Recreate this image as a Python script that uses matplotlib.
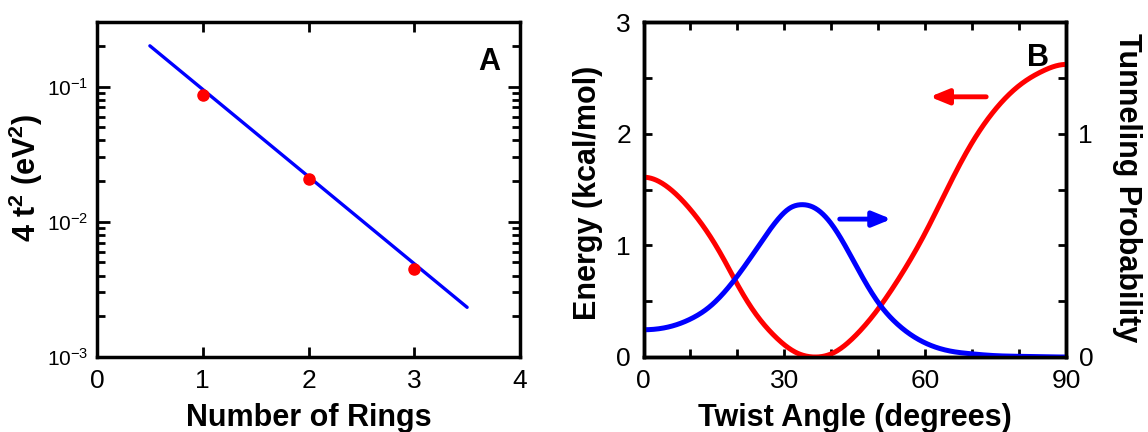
import numpy as np
import matplotlib
matplotlib.use("Agg")
import matplotlib.pyplot as plt
from matplotlib.ticker import LogLocator, MultipleLocator, FixedLocator, FuncFormatter

plt.rcParams['font.family'] = ['Liberation Sans', 'DejaVu Sans']
plt.rcParams['mathtext.fontset'] = 'custom'
plt.rcParams['mathtext.rm'] = 'Liberation Sans'
plt.rcParams['mathtext.bf'] = 'Liberation Sans:bold'

# --- panel A data ---
rings = [1, 2, 3]
t2 = [0.086, 0.0207, 0.0045]
fit_x = [0.5, 3.5]
fit_y = [0.2, 0.00233]

# --- panel B data ---
ang_e = [0, 5.8, 10, 14.2, 17.3, 20, 23.5, 28, 32.7, 36.2, 40.4, 45, 49.8,
         54.2, 60, 65, 70, 75, 80, 85, 90]
energy = [1.61, 1.50, 1.32, 1.08, 0.86, 0.65, 0.41, 0.185, 0.036, 0.0, 0.036,
          0.185, 0.42, 0.69, 1.11, 1.53, 1.92, 2.22, 2.43, 2.56, 2.62]
ang_p = [0, 5.8, 10, 14.2, 18.8, 23.5, 28, 31.2, 33.6, 36.5, 40.4, 45, 49.8,
         54.2, 60, 65, 70, 75, 80, 90]
prob = [0.122, 0.137, 0.17, 0.227, 0.33, 0.466, 0.60, 0.667, 0.682, 0.667,
        0.585, 0.42, 0.25, 0.145, 0.063, 0.028, 0.014, 0.006, 0.003, 0.0]


def spline(x, y, n=500):
    # clamped cubic spline (zero slope at both ends) through the read points
    x = np.asarray(x, float); y = np.asarray(y, float)
    N = len(x); h = np.diff(x)
    A = np.zeros((N, N)); b = np.zeros(N)
    A[0, 0] = 2*h[0]; A[0, 1] = h[0]; b[0] = 3*(y[1] - y[0]) / h[0]
    A[-1, -2] = h[-1]; A[-1, -1] = 2*h[-1]; b[-1] = -3*(y[-1] - y[-2]) / h[-1]
    for k in range(1, N - 1):
        A[k, k - 1] = h[k - 1]; A[k, k] = 2*(h[k - 1] + h[k]); A[k, k + 1] = h[k]
        b[k] = 3*((y[k + 1] - y[k]) / h[k] - (y[k] - y[k - 1]) / h[k - 1])
    c = np.linalg.solve(A, b)
    bb = np.diff(y) / h - h*(2*c[:-1] + c[1:]) / 3
    d = np.diff(c) / (3*h)
    xs = np.linspace(x[0], x[-1], n)
    i = np.clip(np.searchsorted(x, xs) - 1, 0, N - 2)
    dx = xs - x[i]
    return xs, y[i] + bb[i]*dx + c[i]*dx**2 + d[i]*dx**3


fig = plt.figure(figsize=(11.48, 4.32), dpi=100)

tick_kw = dict(direction='in', width=2, colors='black')
LBL = 22

# --- panel A ---
ax1 = fig.add_axes([97/1148, 75/432, 423/1148, 335/432])
ax1.plot(fit_x, fit_y, color='#0000ff', lw=2.4, solid_capstyle='round', zorder=2)
ax1.plot(rings, t2, 'o', color='#ff0000', ms=8, zorder=3)
ax1.set_yscale('log')
ax1.set_xlim(0, 4)
ax1.set_ylim(1e-3, 0.3)
ax1.xaxis.set_major_locator(MultipleLocator(1))
ax1.yaxis.set_major_locator(LogLocator(base=10, numticks=10))
ax1.yaxis.set_minor_locator(LogLocator(base=10, subs=np.arange(2, 10), numticks=10))
ax1.yaxis.set_minor_formatter(plt.NullFormatter())
ax1.yaxis.set_major_formatter(FuncFormatter(
    lambda v, p: r'$\mathregular{10^{%d}}$' % round(np.log10(v))))
ax1.tick_params(axis='x', which='major', length=7, top=True, labelsize=19, pad=9, **tick_kw)
ax1.tick_params(axis='y', which='major', length=9, right=True, labelsize=15, pad=6, **tick_kw)
ax1.tick_params(which='minor', length=5.5, width=2, direction='in', right=True)
for s in ax1.spines.values():
    s.set_linewidth(2.5)
ax1.set_xlabel('Number of Rings', fontsize=LBL, fontweight='bold', va='center')
ax1.xaxis.set_label_coords(0.5, -0.182)
ax1.set_ylabel(r'4 t$^\mathregular{2}$ (eV$^\mathregular{2}$)', fontsize=LBL,
               fontweight='bold', va='center')
ax1.yaxis.set_label_coords(-0.168, 0.534)
ax1.text(0.953, 0.925, 'A', transform=ax1.transAxes, ha='right', va='top',
         fontsize=22, fontweight='bold')

# --- panel B ---
ax2 = fig.add_axes([643.5/1148, 75/432, 422.5/1148, 335/432])
xe, ye = spline(ang_e, energy)
ax2.plot(xe, np.clip(ye, 0, None), color='#ff0000', lw=3.6, solid_capstyle='round', zorder=3)
ax2.set_xlim(0, 90)
ax2.set_ylim(0, 3)
ax2.xaxis.set_major_locator(MultipleLocator(30))
ax2.xaxis.set_minor_locator(MultipleLocator(10))
ax2.yaxis.set_major_locator(MultipleLocator(1))
ax2.yaxis.set_minor_locator(MultipleLocator(0.5))
ax2.tick_params(which='major', length=6, top=True, labelsize=19, pad=9, **tick_kw)
ax2.tick_params(which='minor', length=6, width=2, direction='in', top=True)
for s in ax2.spines.values():
    s.set_linewidth(2.5)
ax2.set_xlabel('Twist Angle (degrees)', fontsize=LBL, fontweight='bold', va='center')
ax2.xaxis.set_label_coords(0.5, -0.182)
ax2.set_ylabel('Energy (kcal/mol)', fontsize=LBL, fontweight='bold', va='center')
ax2.yaxis.set_label_coords(-0.131, 0.49)

ax3 = ax2.twinx()
xp, yp = spline(ang_p, prob)
ax3.plot(xp, np.clip(yp, 0, None), color='#0000ff', lw=3.6, solid_capstyle='round', zorder=2)
ax3.set_ylim(0, 1.5)
ax3.yaxis.set_major_locator(FixedLocator([0, 1]))
ax3.yaxis.set_minor_locator(FixedLocator([0.25, 0.5, 0.75, 1.25]))
ax3.tick_params(which='major', length=6, labelsize=19, pad=9, **tick_kw)
ax3.tick_params(which='minor', length=6, width=2, direction='in')
for s in ax3.spines.values():
    s.set_linewidth(2.5)
ax3.set_ylabel('Tunneling Probability', fontsize=LBL, fontweight='bold',
               rotation=270, va='center')
ax3.yaxis.set_label_coords(1.144, 0.505)

arrow = '-|>,head_length=1.1,head_width=0.45'
ax2.annotate('', xy=(61.0, 2.33), xytext=(73.0, 2.33),
             arrowprops=dict(arrowstyle=arrow, color='#ff0000', lw=3.5,
                             shrinkA=0, shrinkB=0))
ax2.annotate('', xy=(52.8, 1.235), xytext=(41.8, 1.235),
             arrowprops=dict(arrowstyle=arrow, color='#0000ff', lw=3.5,
                             shrinkA=0, shrinkB=0))
ax2.text(0.96, 0.937, 'B', transform=ax2.transAxes, ha='right', va='top',
         fontsize=22, fontweight='bold', zorder=5)

fig.savefig('out.png', dpi=100)
